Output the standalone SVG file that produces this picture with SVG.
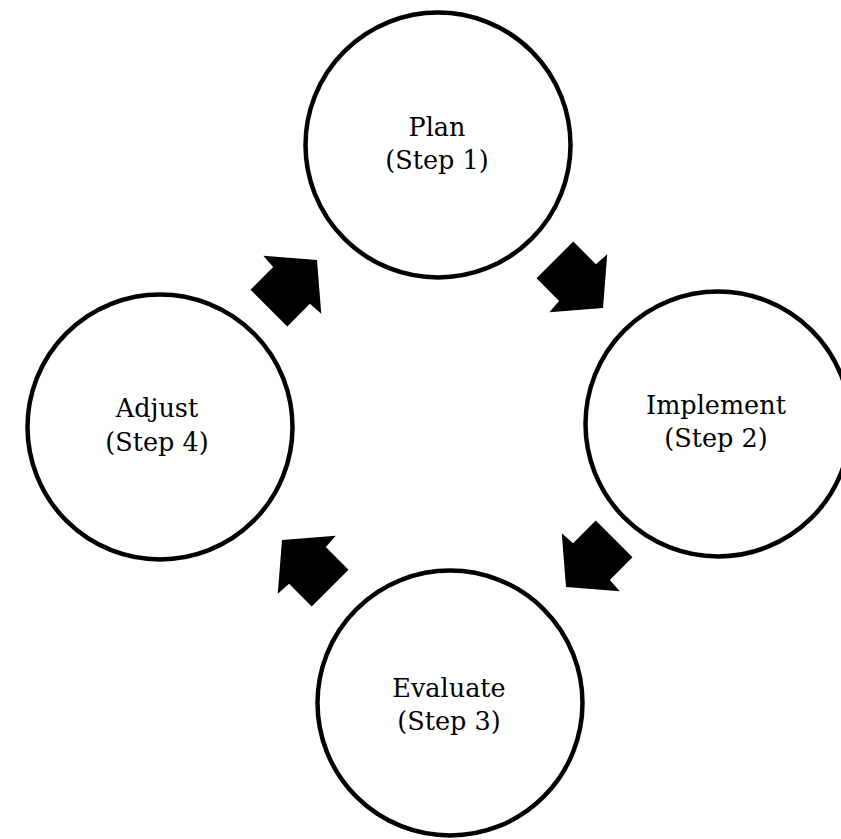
<svg xmlns="http://www.w3.org/2000/svg" xmlns:xlink="http://www.w3.org/1999/xlink" width="841" height="839" viewBox="0 0 841 839">
<style>
.node circle{fill:#fff;stroke:#000;stroke-width:4.5}
.node text{font-family:"DejaVu Serif","Liberation Serif",serif;font-size:25.5px;fill:#000;text-anchor:middle}
.arrow{fill:#000}
</style>
<defs>
<path id="blk" d="M0,0 L-35,41 L-36,26 L-68,26 L-68,-26 L-36,-26 L-35,-41 Z"/>
</defs>
<rect width="841" height="839" fill="#fff"/>
<g id="plan" class="node">
<circle cx="438" cy="145" r="132.5"/>
<text x="437" y="136">Plan</text>
<text x="437" y="169">(Step 1)</text>
</g>
<g id="implement" class="node">
<circle cx="718" cy="424" r="132.5"/>
<text x="716" y="414">Implement</text>
<text x="716" y="447">(Step 2)</text>
</g>
<g id="evaluate" class="node">
<circle cx="450" cy="703" r="132.5"/>
<text x="449" y="697">Evaluate</text>
<text x="449" y="730">(Step 3)</text>
</g>
<g id="adjust" class="node">
<circle cx="160" cy="427" r="132.5"/>
<text x="157" y="417">Adjust</text>
<text x="157" y="451">(Step 4)</text>
</g>
<g id="connectors">
<use xlink:href="#blk" class="arrow" transform="translate(317,260) rotate(-45)"/>
<use xlink:href="#blk" class="arrow" transform="translate(603,308) rotate(45)"/>
<use xlink:href="#blk" class="arrow" transform="translate(566,587) rotate(135)"/>
<use xlink:href="#blk" class="arrow" transform="translate(282,540) rotate(-135)"/>
</g>
</svg>
